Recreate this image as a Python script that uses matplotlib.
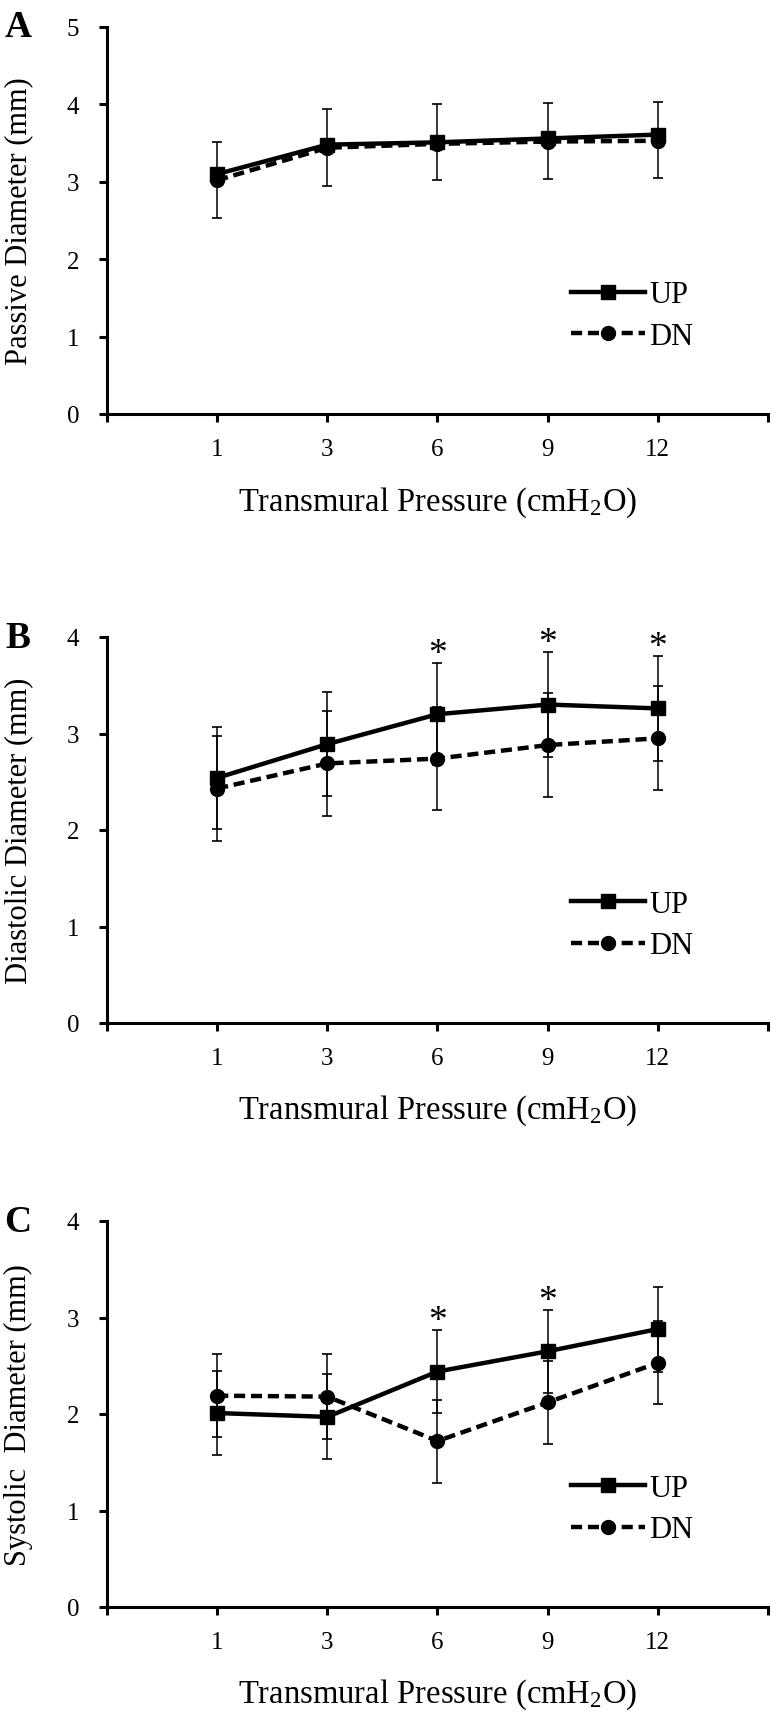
import matplotlib
matplotlib.use("Agg")
import matplotlib.pyplot as plt
import numpy as np

plt.rcParams['font.family'] = ['Liberation Serif', 'DejaVu Serif']
plt.rcParams['mathtext.fontset'] = 'custom'
plt.rcParams['mathtext.rm'] = 'Liberation Serif'
plt.rcParams['mathtext.it'] = 'Liberation Serif:italic'

# ---------------- data ----------------
pressure_labels = ['1', '3', '6', '9', '12']

# Panel A: passive diameter (mm)
a_up = [3.10, 3.48, 3.51, 3.56, 3.61]
a_up_err = [0.42, 0.46, 0.49, 0.46, 0.42]      # upper bars only
a_dn = [3.02, 3.44, 3.49, 3.52, 3.53]
a_dn_err = [0.49, 0.49, 0.47, 0.48, 0.48]      # lower bars only

# Panel B: diastolic diameter (mm)
b_up = [2.54, 2.89, 3.20, 3.30, 3.26]
b_up_err = [0.53, 0.54, 0.53, 0.54, 0.54]
b_dn = [2.43, 2.69, 2.74, 2.88, 2.95]
b_dn_err = [0.54, 0.54, 0.53, 0.54, 0.54]
b_sig = [2, 3, 4]

# Panel C: systolic diameter (mm)
c_up = [2.01, 1.97, 2.44, 2.65, 2.88]
c_up_err = [0.44, 0.44, 0.43, 0.43, 0.44]
c_dn = [2.19, 2.18, 1.72, 2.12, 2.53]
c_dn_err = [0.43, 0.44, 0.43, 0.43, 0.43]
c_sig = [2, 3]

W, H = 773, 1724
fig = plt.figure(figsize=(W / 100, H / 100), dpi=100)

def px_axes(top, bottom, left=107, right=768):
    return [left / W, 1 - bottom / H, (right - left) / W, (bottom - top) / H]

panels = [
    dict(rect=px_axes(28, 415), ymax=5, letter='A', ylabel='Passive Diameter (mm)',
         up=a_up, up_err=([0] * 5, a_up_err), dn=a_dn, dn_err=(a_dn_err, [0] * 5), sig=[]),
    dict(rect=px_axes(638, 1024), ymax=4, letter='B', ylabel='Diastolic Diameter (mm)',
         up=b_up, up_err=b_up_err, dn=b_dn, dn_err=b_dn_err, sig=b_sig),
    dict(rect=px_axes(1222, 1608), ymax=4, letter='C', ylabel='Systolic  Diameter (mm)',
         up=c_up, up_err=c_up_err, dn=c_dn, dn_err=c_dn_err, sig=c_sig),
]

x = np.arange(1, len(pressure_labels) + 1)

for p in panels:
    ax = fig.add_axes(p['rect'])
    ax.errorbar(x, p['up'], yerr=p['up_err'], fmt='none', ecolor='black',
                elinewidth=1.1, capsize=3.4, capthick=1.2, zorder=2)
    ax.errorbar(x, p['dn'], yerr=p['dn_err'], fmt='none', ecolor='black',
                elinewidth=1.1, capsize=3.4, capthick=1.2, zorder=2)
    ax.plot(x, p['up'], color='black', lw=3.2, marker='s', ms=9.5,
            label='UP', zorder=4)
    ax.plot(x, p['dn'], color='black', lw=3.2, ls=(0, (2.5, 1.3)), marker='o', ms=10,
            label='DN', zorder=3)

    up = np.array(p['up'])
    up_top = up + (np.array(p['up_err']) if not isinstance(p['up_err'], tuple)
                   else np.array(p['up_err'][1]))
    for i in p['sig']:
        ax.annotate('*', xy=(x[i], up_top[i]), xytext=(0, 0),
                    textcoords='offset points', ha='center', va='baseline',
                    fontsize=27)

    ax.set_xlim(0, 6)
    ax.set_ylim(0, p['ymax'])
    ax.set_xticks(np.arange(0, 7))
    ax.set_xticklabels([''] + pressure_labels + [''])
    ax.set_yticks(np.arange(0, p['ymax'] + 1))
    for s in ['top', 'right']:
        ax.spines[s].set_visible(False)
    for s in ['left', 'bottom']:
        ax.spines[s].set_linewidth(2.2)
    ax.tick_params(axis='both', direction='out', length=6, width=2.2,
                   labelsize=18, colors='black')
    ax.tick_params(axis='y', pad=14)
    ax.tick_params(axis='x', pad=11)

    ax.set_xlabel('Transmural Pressure (cmH$_\\mathregular{2}$O)', fontsize=23.5)
    ax.xaxis.set_label_coords(0.5, -0.181)
    ax.set_ylabel(p['ylabel'], fontsize=22)
    ax.yaxis.set_label_coords(-0.112, 0.5)

    ax.legend(loc='center left', bbox_to_anchor=(0.7015, 0.254), frameon=False,
              fontsize=22, handlelength=2.42, handletextpad=0.15,
              labelspacing=0.42, borderpad=0, borderaxespad=0, numpoints=1)

    l, b, w, h = p['rect']
    fig.text(18 / W, b + h, p['letter'], fontsize=27, fontweight='bold',
             ha='center', va='center')

fig.savefig('out.png', dpi=100)
